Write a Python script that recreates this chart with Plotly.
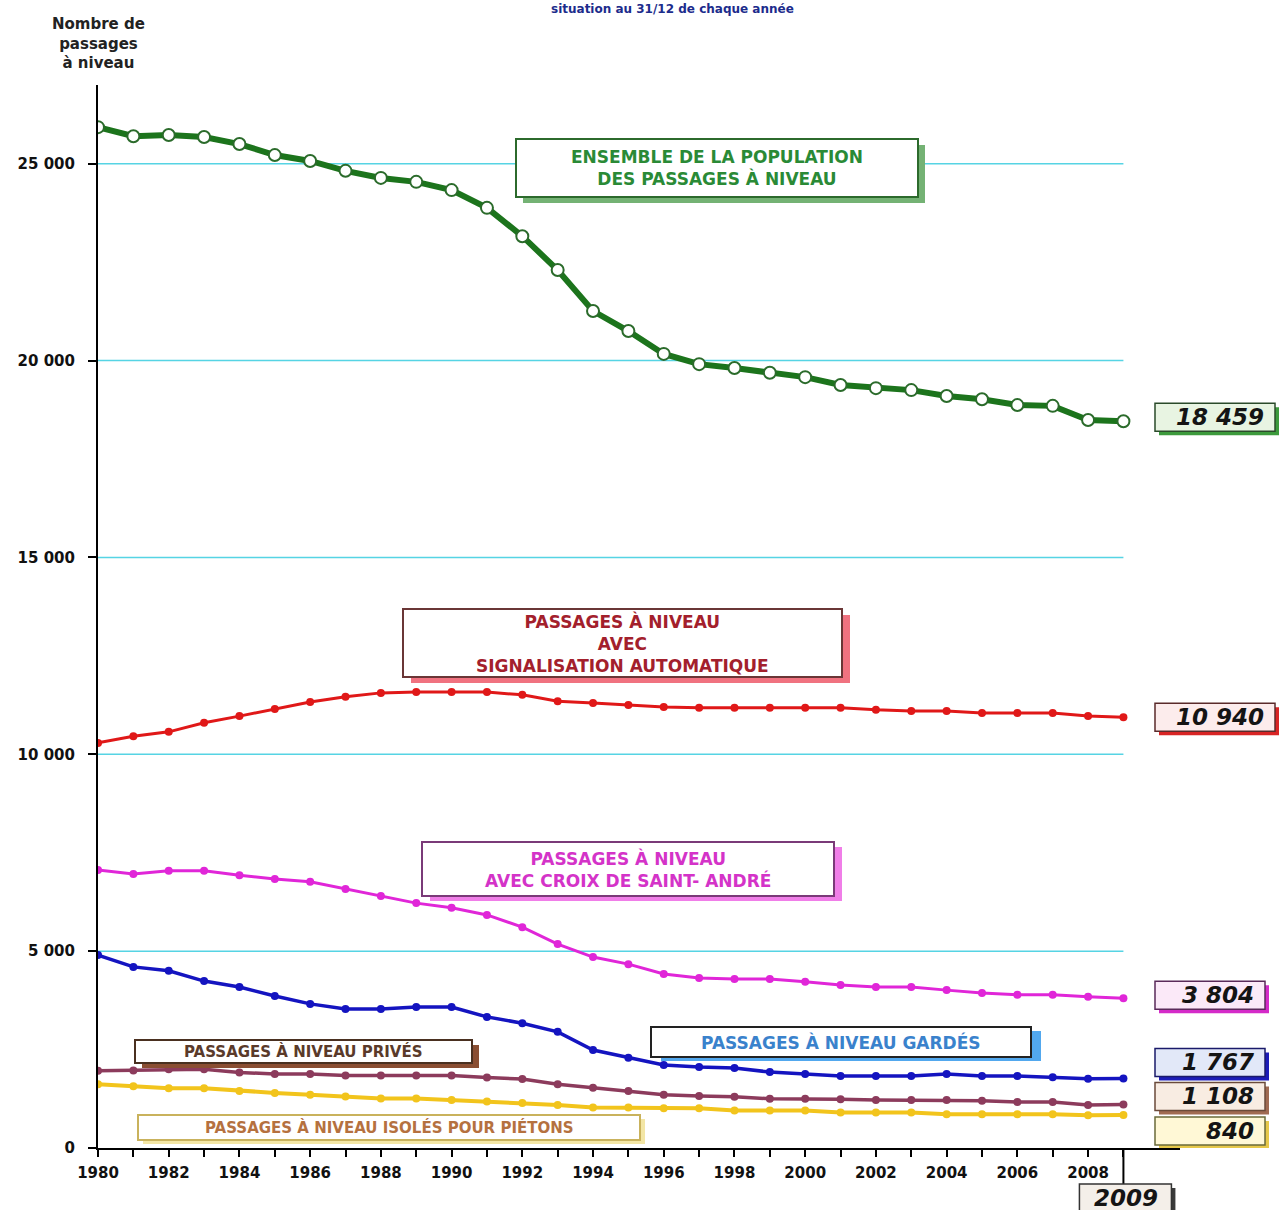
import plotly.graph_objects as go

# ---- data -------------------------------------------------------------
years = list(range(1980, 2010))

ensemble = [25930, 25700, 25730, 25680, 25500, 25220, 25070, 24820, 24640, 24540,
            24330, 23880, 23160, 22300, 21260, 20750, 20170, 19910, 19810, 19690,
            19580, 19380, 19300, 19250, 19100, 19020, 18870, 18850, 18490, 18459]

automatique = [10290, 10460, 10570, 10800, 10970, 11150, 11330, 11460, 11560, 11580,
               11580, 11580, 11510, 11350, 11300, 11250, 11200, 11180, 11180, 11180,
               11180, 11180, 11130, 11100, 11100, 11050, 11050, 11050, 10970, 10940]

croix = [7060, 6960, 7040, 7040, 6930, 6830, 6760, 6580, 6400, 6220,
         6100, 5920, 5610, 5180, 4850, 4670, 4420, 4320, 4290, 4290,
         4220, 4140, 4090, 4090, 4010, 3940, 3890, 3890, 3840, 3804]

gardes = [4900, 4600, 4500, 4240, 4090, 3860, 3660, 3530, 3530, 3580,
          3580, 3330, 3170, 2950, 2490, 2290, 2110, 2060, 2030, 1930,
          1880, 1830, 1830, 1830, 1880, 1830, 1830, 1800, 1760, 1767]

prives = [1960, 1970, 2000, 2000, 1920, 1880, 1880, 1840, 1840, 1840,
          1840, 1790, 1750, 1620, 1530, 1450, 1350, 1320, 1300, 1250,
          1250, 1240, 1220, 1220, 1220, 1200, 1170, 1170, 1090, 1108]

pietons = [1620, 1570, 1520, 1520, 1450, 1400, 1350, 1310, 1260, 1260,
           1220, 1180, 1140, 1090, 1030, 1030, 1010, 1010, 950, 950,
           950, 900, 900, 900, 860, 860, 860, 860, 830, 840]

y_ticks = [0, 5000, 10000, 15000, 20000, 25000]
y_tick_text = ["0", "5 000", "10 000", "15 000", "20 000", "25 000"]
x_tick_text = [str(y) if y % 2 == 0 else "" for y in years]

# ---- geometry helpers ------------------------------------------------------
FONT = "DejaVu Sans"
FIG_W, FIG_H = 1282, 1210
M_L, M_R, M_T, M_B = 98, 102, 85, 62
PLOT_W = FIG_W - M_L - M_R
PLOT_H = FIG_H - M_T - M_B


def fx(px):
    return (px - M_L) / PLOT_W


def fy(py):
    return (FIG_H - M_B - py) / PLOT_H


def fmt(v):
    return f"{v:,}".replace(",", " ")


fig = go.Figure()

# ---- series ---------------------------------------------------------------
series = [
    ("Passages à niveau isolés pour piétons", pietons, "#f2c41c", 4,
     dict(size=8, color="#f2c41c")),
    ("Passages à niveau privés", prives, "#8c3b5c", 3.5,
     dict(size=8, color="#8c3b5c")),
    ("Passages à niveau gardés", gardes, "#1414c0", 3.5,
     dict(size=8, color="#1414c0")),
    ("Passages à niveau avec croix de Saint-André", croix, "#e026d8", 3,
     dict(size=8, color="#e026d8")),
    ("Passages à niveau avec signalisation automatique", automatique, "#e01818", 3,
     dict(size=8, color="#e01818")),
    ("Ensemble de la population des passages à niveau", ensemble, "#1c741c", 6,
     dict(size=12, color="white", line=dict(color="#2b6b2b", width=2))),
]
for name, vals, color, width, marker in series:
    fig.add_trace(go.Scatter(
        x=years, y=vals, name=name, mode="lines+markers",
        line=dict(color=color, width=width), marker=dict(symbol="circle", **marker),
        showlegend=False, hoverinfo="x+y",
    ))

shapes = []
annotations = []

# horizontal guide lines
for v in y_ticks[1:]:
    shapes.append(dict(type="line", xref="x", yref="y", x0=years[0], x1=years[-1],
                       y0=v, y1=v, line=dict(color="#56d4e4", width=1.5), layer="below"))

# ---- series captions in framed boxes ----------------------------------------
callouts = [
    dict(text="ENSEMBLE DE LA POPULATION<br>DES PASSAGES À NIVEAU",
         box=(516, 139, 918, 197), fc="#2a8a36", border="#2c6a2c", shadow="#74b274",
         size=17, off=(7, 6)),
    dict(text="PASSAGES À NIVEAU<br>AVEC<br>SIGNALISATION AUTOMATIQUE",
         box=(403, 609, 842, 677), fc="#a3202c", border="#6a3636", shadow="#f07280",
         size=17, off=(8, 6)),
    dict(text="PASSAGES À NIVEAU<br>AVEC CROIX DE SAINT- ANDRÉ",
         box=(422, 842, 834, 896), fc="#d433c8", border="#7a3a78", shadow="#f07ee8",
         size=17, off=(8, 5)),
    dict(text="PASSAGES À NIVEAU GARDÉS",
         box=(651, 1027, 1031, 1057), fc="#3a82cc", border="#222222", shadow="#52a8ee",
         size=17, off=(10, 4)),
    dict(text="PASSAGES À NIVEAU PRIVÉS",
         box=(135, 1040, 472, 1063), fc="#5a3a2a", border="#4a3020", shadow="#8a4e32",
         size=15, off=(7, 5)),
    dict(text="PASSAGES À NIVEAU ISOLÉS POUR PIÉTONS",
         box=(138, 1115, 640, 1140), fc="#b5713f", border="#c9b25c", shadow="#f3e6a6",
         size=15, off=(5, 4)),
]
for c in callouts:
    x0, y0, x1, y1 = c["box"]
    dx, dy = c["off"]
    shapes.append(dict(type="rect", xref="paper", yref="paper",
                       x0=fx(x0 + dx), x1=fx(x1 + dx), y0=fy(y1 + dy), y1=fy(y0 + dy),
                       fillcolor=c["shadow"], line=dict(width=0), layer="above"))
    shapes.append(dict(type="rect", xref="paper", yref="paper",
                       x0=fx(x0), x1=fx(x1), y0=fy(y1), y1=fy(y0),
                       fillcolor="white", line=dict(color=c["border"], width=2),
                       layer="above"))
    annotations.append(dict(xref="paper", yref="paper", x=fx((x0 + x1) / 2),
                            y=fy((y0 + y1) / 2), xanchor="center", yanchor="middle",
                            text=c["text"], showarrow=False, align="center",
                            font=dict(family=FONT, size=c["size"], color=c["fc"],
                                      weight="bold")))

# ---- final values at the end of each series ----------------------------------
end_labels = [
    (ensemble, "#e8f4e2", "#2a4a2a", "#3c9a3c", 120, 4),
    (automatique, "#fcecec", "#5a2a2a", "#d82424", 120, 0),
    (croix, "#fbe9f8", "#5a2a5a", "#d42ac8", 110, 3),
    (gardes, "#e2e8f8", "#1a1a6a", "#1c1cb8", 110, 16),
    (prives, "#f8ece2", "#6a4a3a", "#a06a52", 110, 8),
    (pietons, "#fff8d6", "#6a6a3a", "#e6c84a", 110, -16),
]
BOX_LEFT = 1155
for vals, bg, border, shadow, w, lift in end_labels:
    v = vals[-1]
    shapes.append(dict(type="rect", xref="paper", yref="y", ysizemode="pixel",
                       yanchor=v, x0=fx(BOX_LEFT + 4), x1=fx(BOX_LEFT + w + 4),
                       y0=lift - 18, y1=lift + 10,
                       fillcolor=shadow, line=dict(width=0), layer="above"))
    shapes.append(dict(type="rect", xref="paper", yref="y", ysizemode="pixel",
                       yanchor=v, x0=fx(BOX_LEFT), x1=fx(BOX_LEFT + w),
                       y0=lift - 14, y1=lift + 14,
                       fillcolor=bg, line=dict(color=border, width=1.5), layer="above"))
    annotations.append(dict(xref="paper", yref="y", x=fx(BOX_LEFT + w - 9), y=v,
                            xanchor="right", yanchor="middle", yshift=lift,
                            text=fmt(v), showarrow=False,
                            font=dict(family=FONT, size=23, color="#141414",
                                      weight="bold", style="italic")))

# last year flag under the time axis
shapes.append(dict(type="line", xref="x", yref="paper", x0=years[-1], x1=years[-1],
                   y0=fy(1148), y1=fy(1184), line=dict(color="black", width=2)))
shapes.append(dict(type="rect", xref="x", yref="paper", xsizemode="pixel",
                   xanchor=years[-1], x0=-40, x1=52, y0=fy(1218), y1=fy(1188),
                   fillcolor="#3a3a3a", line=dict(width=0), layer="above"))
shapes.append(dict(type="rect", xref="x", yref="paper", xsizemode="pixel",
                   xanchor=years[-1], x0=-44, x1=48, y0=fy(1218), y1=fy(1184),
                   fillcolor="#f4efe9", line=dict(color="#333333", width=1.5),
                   layer="above"))
annotations.append(dict(xref="x", yref="paper", x=years[-1], y=fy(1198), xshift=3,
                        xanchor="center", yanchor="middle", text=str(years[-1]),
                        showarrow=False,
                        font=dict(family=FONT, size=23, color="#141414",
                                  weight="bold", style="italic")))

# axis caption and page heading
annotations.append(dict(xref="paper", yref="paper", x=fx(98), y=fy(43),
                        xanchor="center", yanchor="middle",
                        text="Nombre de<br>passages<br>à niveau", showarrow=False,
                        align="center",
                        font=dict(family=FONT, size=15, color="#222222", weight="bold")))
annotations.append(dict(xref="paper", yref="paper", x=fx(672), y=fy(0),
                        xanchor="center", yanchor="top",
                        text="situation au 31/12 de chaque année", showarrow=False,
                        font=dict(family=FONT, size=12, color="#1c2c8c", weight="bold")))

fig.update_layout(
    width=FIG_W, height=FIG_H,
    margin=dict(l=M_L, r=M_R, t=M_T, b=M_B, pad=0),
    paper_bgcolor="white", plot_bgcolor="white",
    shapes=shapes, annotations=annotations,
    showlegend=False,
    xaxis=dict(range=[1980, 2010.6], showgrid=False, zeroline=False,
               showline=True, linecolor="black", linewidth=2,
               tickmode="array", tickvals=years, ticktext=x_tick_text,
               ticks="outside", ticklen=7, tickwidth=1.5, tickcolor="black",
               ticklabelstandoff=3,
               tickfont=dict(family=FONT, size=15, color="#111111", weight="bold")),
    yaxis=dict(range=[0, 27000], showgrid=False, zeroline=False,
               showline=True, linecolor="black", linewidth=2,
               tickmode="array", tickvals=y_ticks, ticktext=y_tick_text,
               ticks="outside", ticklen=8, tickwidth=1.5, tickcolor="black",
               ticklabelstandoff=10,
               tickfont=dict(family=FONT, size=15, color="#111111", weight="bold")),
)

fig.write_html("out.html")
